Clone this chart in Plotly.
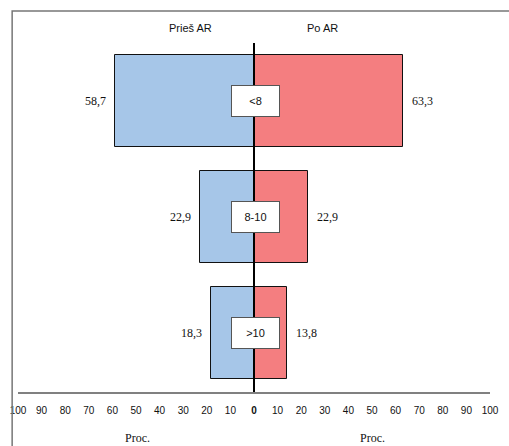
import plotly.graph_objects as go

categories = ["<8", "8-10", ">10"]
before_values = [58.7, 22.9, 18.3]
after_values = [63.3, 22.9, 13.8]
header_left = "Prieš AR"
header_right = "Po AR"
axis_title = "Proc."
tick_values = list(range(-100, 101, 10))
tick_labels = ["<b>0</b>" if v == 0 else str(abs(v)) for v in tick_values]

ypos = list(range(len(categories)))
fmt = lambda v: f"{v:.1f}".replace(".", ",")

narrow = "Liberation Sans Narrow, Arial Narrow, Liberation Sans, Arial"
serif = "Liberation Serif, Times New Roman, serif"

fig = go.Figure()
fig.add_trace(go.Bar(
    y=ypos, x=[-v for v in before_values], orientation="h",
    marker=dict(color="#A6C6E8", line=dict(color="#111111", width=1)),
    width=0.79, hoverinfo="skip", showlegend=False))
fig.add_trace(go.Bar(
    y=ypos, x=after_values, orientation="h",
    marker=dict(color="#F47E80", line=dict(color="#111111", width=1)),
    width=0.79, hoverinfo="skip", showlegend=False))

annotations = []
for i, c in enumerate(categories):
    annotations.append(dict(x=-before_values[i], y=i, xref="x", yref="y",
                            text=fmt(before_values[i]), showarrow=False,
                            xanchor="right", xshift=-7,
                            font=dict(family=serif, size=12, color="#111")))
    annotations.append(dict(x=after_values[i], y=i, xref="x", yref="y",
                            text=fmt(after_values[i]), showarrow=False,
                            xanchor="left", xshift=7,
                            font=dict(family=serif, size=12, color="#111")))
    annotations.append(dict(x=0.6, y=i, xref="x", yref="y", text=c,
                            showarrow=False, width=45, height=28,
                            bgcolor="white", bordercolor="#555555", borderwidth=1,
                            font=dict(family=narrow, size=11, color="#111")))

annotations += [
    dict(x=-27, y=1.043, xref="x", yref="paper", yanchor="middle", text=header_left,
         showarrow=False, font=dict(family=narrow, size=11, color="#111")),
    dict(x=29, y=1.043, xref="x", yref="paper", yanchor="middle", text=header_right,
         showarrow=False, font=dict(family=narrow, size=11, color="#111")),
    dict(x=-49.4, y=-0.132, xref="x", yref="paper", yanchor="middle", text=axis_title,
         showarrow=False, font=dict(family=serif, size=12, color="#111")),
    dict(x=50.2, y=-0.132, xref="x", yref="paper", yanchor="middle", text=axis_title,
         showarrow=False, font=dict(family=serif, size=12, color="#111")),
]

shapes = [
    dict(type="line", xref="x", yref="paper", x0=0, x1=0, y0=0, y1=1,
         line=dict(color="black", width=2)),
    dict(type="rect", xref="paper", yref="paper", x0=-0.0124, x1=1.05,
         y0=-0.2, y1=1.0917, line=dict(color="#777777", width=1.5)),
]

fig.update_layout(
    width=509, height=446,
    margin=dict(l=15, r=10, t=43, b=54),
    paper_bgcolor="white", plot_bgcolor="white",
    barmode="overlay", bargap=0,
    annotations=annotations, shapes=shapes,
    xaxis=dict(range=[-100, 100], tickvals=tick_values, ticktext=tick_labels,
               showgrid=False, zeroline=False, showline=True,
               linecolor="#808080", linewidth=1.5,
               ticks="outside", ticklen=8, tickcolor="rgba(0,0,0,0)",
               tickfont=dict(family=narrow, size=10, color="#111"),
               fixedrange=True),
    yaxis=dict(range=[2.509, -0.5], showticklabels=False, showgrid=False,
               zeroline=False, showline=False, fixedrange=True),
)

fig.write_html("out.html", config={"displayModeBar": False},
               post_script="document.body.style.margin='0';document.body.style.overflow='hidden';")
